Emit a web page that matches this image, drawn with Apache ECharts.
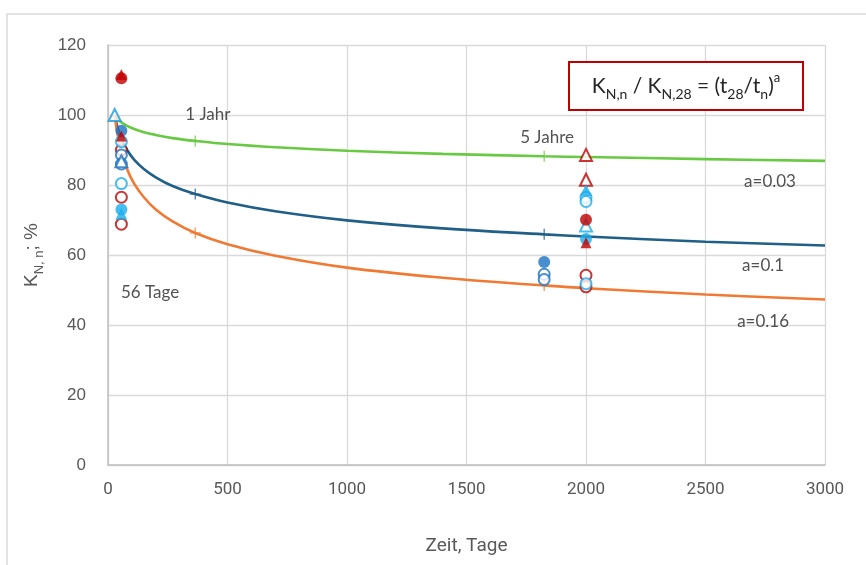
<!DOCTYPE html>
<html><head><meta charset="utf-8">
<script src="https://cdn.jsdelivr.net/npm/echarts@6/dist/echarts.min.js"></script>
<style>html,body{margin:0;padding:0;background:#fff}#c{width:866px;height:565px}</style>
</head><body><div id="c"></div>
<script>
// Curves K_N,n / K_N,28 (time in days, value in %)
const curveDays = [28, 40, 56, 80, 110, 150, 200, 270, 365, 500, 700, 1000, 1400, 1825, 2000, 2500, 3000];
const curveA003 = [100, 98.9, 97.9, 96.9, 96.0, 95.1, 94.3, 93.4, 92.6, 91.7, 90.8, 89.8, 88.9, 88.2, 88.0, 87.4, 86.9];
const curveA010 = [100, 96.5, 93.3, 90.0, 87.2, 84.6, 82.2, 79.7, 77.4, 75.0, 72.5, 69.9, 67.6, 65.9, 65.3, 63.8, 62.7];
const curveA016 = [100, 94.5, 89.5, 84.5, 80.3, 76.5, 73.0, 69.6, 66.3, 63.1, 59.8, 56.4, 53.5, 51.3, 50.5, 48.7, 47.3];
const tickDays = [365, 1825];
const tickA003 = [92.6, 88.2];
const tickA010 = [77.4, 65.9];
const tickA016 = [66.3, 51.3];

// Measured points [days, %]
const redFilledCircle = [[56, 110.5], [2000, 70.1]];
const redFilledTriangle = [[56, 111.6], [56, 94.0], [2000, 63.5]];
const redOpenCircle = [[56, 90.0], [56, 76.5], [56, 68.8], [2000, 54.2], [2000, 50.9]];
const redOpenTriangle = [[2000, 88.6], [2000, 81.5]];
const cyanOpenCircle = [[56, 92.4], [56, 80.4], [2000, 76.5], [2000, 75.3], [2000, 51.8]];
const cyanFilledCircle = [[56, 73.0], [2000, 64.6]];
const cyanFilledTriangle = [[56, 71.8], [2000, 78.6]];
const cyanOpenTriangle = [[2000, 68.4]];
const startTriangle = [[28, 100]];
const blueFilledCircle = [[56, 95.5], [1825, 58.0]];
const blueOpenCircle = [[56, 88.6], [56, 86.0], [1825, 54.5], [1825, 53.0]];
const blueOpenTriangle = [[56, 86.8]];

const xTicks = [0, 500, 1000, 1500, 2000, 2500, 3000];
const yTicks = [0, 20, 40, 60, 80, 100, 120];

const noteTexts = ['1 Jahr', '5 Jahre', '56 Tage', 'a=0.03', 'a=0.1', 'a=0.16'];
const noteDays = [418, 1837, 176, 2770, 2741, 2741];
const noteVals = [100.2, 93.5, 49.4, 81.1, 56.9, 40.9];

const GREEN = '#68CA42', DBLUE = '#1F5F88', ORANGE = '#F07A33';
const RED = '#C00000', CYAN = '#1AADEB', BLUE = '#1A72C2';
const PLUS = 'path://M0,5.3H12V6.7H0Z M5.3,0H6.7V12H5.3Z';
const NOTE_FONT = 'Lato, Open Sans, sans-serif';

function zip(xs, ys) { return xs.map((x, i) => [x, ys[i]]); }
function line(name, ys, color) {
  return { name, type: 'line', smooth: 0.4, showSymbol: false, silent: true,
    data: zip(curveDays, ys), lineStyle: { color, width: 2.6 }, z: 2 };
}
function plus(name, ys, color) {
  return { name, type: 'scatter', symbol: PLUS, symbolSize: 11, data: zip(tickDays, ys),
    itemStyle: { color }, z: 3 };
}
function pts(name, data, symbol, color, filled, size) {
  return { name, type: 'scatter', symbol, symbolSize: size || 11, data,
    itemStyle: filled ? { color } : { color: '#fff', borderColor: color, borderWidth: 2 }, z: 5 };
}

const chart = echarts.init(document.getElementById('c'), null, { renderer: 'canvas' });
chart.setOption({
  animation: false,
  backgroundColor: '#fff',
  grid: { left: 108, right: 41, top: 45, bottom: 100 },
  xAxis: {
    type: 'value', min: 0, max: 3000, interval: 500,
    name: 'Zeit, Tage', nameLocation: 'middle', nameGap: 72,
    nameTextStyle: { fontFamily: 'Liberation Sans Narrow, Roboto, sans-serif', fontSize: 19, color: '#595959' },
    axisLine: { lineStyle: { color: '#BFBFBF', width: 1.5 } },
    axisTick: { show: false },
    axisLabel: { margin: 16, fontFamily: 'Liberation Sans Narrow, Roboto, sans-serif', fontSize: 17, color: '#595959',
      formatter: v => xTicks.includes(v) ? String(v) : '' },
    splitLine: { lineStyle: { color: '#D9D9D9', width: 1.3 } }
  },
  yAxis: {
    type: 'value', min: 0, max: 120, interval: 20,
    name: '{b|K}{s|N, n}{b|; %}', nameLocation: 'middle', nameGap: 62, nameRotate: 90,
    nameTextStyle: { color: '#595959',
      rich: { b: { fontFamily: 'Liberation Sans', fontSize: 19, color: '#595959', lineHeight: 28 },
              s: { fontFamily: 'Liberation Sans', fontSize: 13, color: '#595959', lineHeight: 14, verticalAlign: 'bottom' } } },
    axisLine: { show: true, lineStyle: { color: '#BFBFBF', width: 1.5 } },
    axisTick: { show: false },
    axisLabel: { margin: 22, fontFamily: 'Liberation Sans', fontSize: 17, color: '#595959',
      formatter: v => yTicks.includes(v) ? String(v) : '' },
    splitLine: { lineStyle: { color: '#D9D9D9', width: 1.3 } }
  },
  graphic: [
    { type: 'rect', shape: { x: 7, y: 14, width: 900, height: 600 }, style: { fill: 'none', stroke: '#D9D9D9', lineWidth: 1.5 }, z: -10, silent: true },
    { type: 'rect', shape: { x: 569, y: 62, width: 234, height: 48 }, style: { fill: '#fff', stroke: '#C00000', lineWidth: 2 }, z: 100 },
    { type: 'text', x: 686, y: 86, z: 101,
      style: { text: '{b|K}{s|N,n}{b| / K}{s|N,28}{b| = (t}{s|28}{b|/t}{s|n}{b|)}{p|a}',
        align: 'center', verticalAlign: 'middle',
        rich: {
          b: { fontFamily: NOTE_FONT, fontSize: 21, fill: '#262626', lineHeight: 30 },
          s: { fontFamily: NOTE_FONT, fontSize: 14, fill: '#262626', lineHeight: 15, verticalAlign: 'bottom' },
          p: { fontFamily: NOTE_FONT, fontSize: 13, fill: '#262626', lineHeight: 16, verticalAlign: 'top' }
        } } }
  ],
  series: [
    line('a=0.03', curveA003, GREEN),
    line('a=0.1', curveA010, DBLUE),
    line('a=0.16', curveA016, ORANGE),
    plus('t a=0.03', tickA003, GREEN),
    plus('t a=0.1', tickA010, DBLUE),
    plus('t a=0.16', tickA016, ORANGE),
    pts('start', startTriangle, 'triangle', '#1A9AD8', false, 12),
    pts('redOC', redOpenCircle, 'circle', RED, false, 11),
    pts('cyanOC', cyanOpenCircle, 'circle', CYAN, false, 11),
    pts('blueOC', blueOpenCircle, 'circle', BLUE, false, 11),
    pts('redOT', redOpenTriangle, 'triangle', RED, false, 12),
    pts('cyanOT', cyanOpenTriangle, 'triangle', CYAN, false, 12),
    pts('blueOT', blueOpenTriangle, 'triangle', BLUE, false, 12),
    pts('cyanFC', cyanFilledCircle, 'circle', CYAN, true, 12),
    pts('cyanFT', cyanFilledTriangle, 'triangle', CYAN, true, 12),
    pts('blueFC', blueFilledCircle, 'circle', BLUE, true, 12),
    pts('redFT', redFilledTriangle, 'triangle', RED, true, 11),
    pts('redFC', redFilledCircle, 'circle', RED, true, 12),
    { name: 'notes', type: 'scatter', symbolSize: 0, silent: true, z: 6,
      data: noteTexts.map((t, i) => ({ value: [noteDays[i], noteVals[i]], name: t })),
      label: { show: true, position: 'inside', formatter: p => p.name,
        fontFamily: NOTE_FONT, fontSize: 17, color: '#262626' } }
  ]
});
</script></body></html>
